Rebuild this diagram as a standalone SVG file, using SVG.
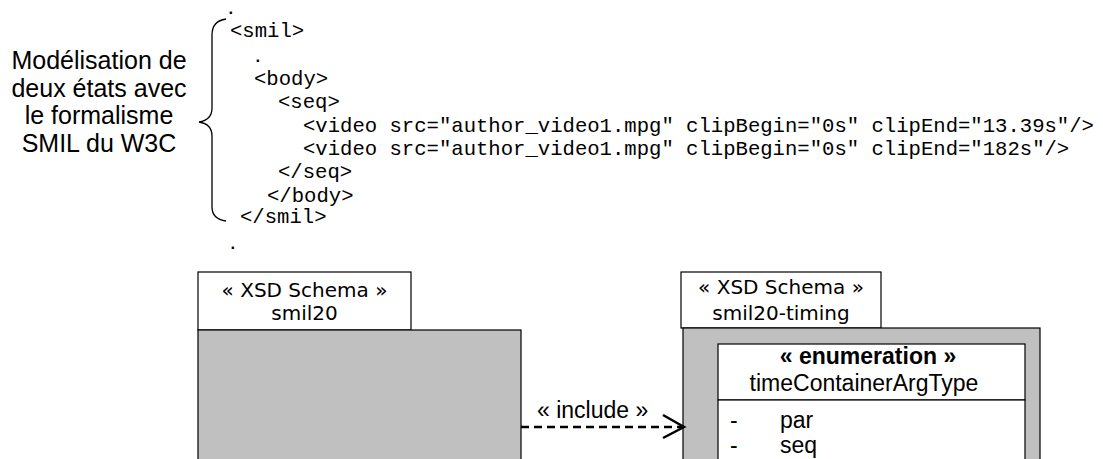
<svg xmlns="http://www.w3.org/2000/svg" width="1103" height="459" viewBox="0 0 1103 459">
<style>
.lbl{font-family:"Liberation Sans",Arial,sans-serif;font-size:25px;fill:#000;text-anchor:middle}
.code{font-family:"Liberation Mono","Courier New",monospace;font-size:20.6px;fill:#000;white-space:pre}
.dot{font-family:"Liberation Mono","Courier New",monospace;font-size:16px;font-weight:bold;fill:#000}
.tab{font-family:"DejaVu Sans",Tahoma,sans-serif;font-size:20px;fill:#000;text-anchor:middle}
.ar{font-family:"Liberation Sans",Arial,sans-serif;font-size:23px;fill:#000}
.box{fill:#fff;stroke:#000;stroke-width:1.2}
.pkg{fill:#c0c0c0;stroke:#000;stroke-width:1.2}
</style>
<g id="caption">
<text class="lbl" x="99" y="69">Modélisation de</text>
<text class="lbl" x="99" y="96.7">deux états avec</text>
<text class="lbl" x="99" y="124.4">le formalisme</text>
<text class="lbl" x="99" y="152.1">SMIL du W3C</text>
</g>
<g id="brace">
<path d="M226,19 Q212,21 212,35 L212,108 Q212,120 199,122 Q212,124 212,136 L212,207 Q212,219 226,221" fill="none" stroke="#000" stroke-width="1.3"/>
</g>
<g id="code">
<text class="dot" x="226" y="14">.</text>
<text class="code" x="230" y="37">&lt;smil&gt;</text>
<text class="dot" x="253" y="62">.</text>
<text class="code" x="254" y="85">&lt;body&gt;</text>
<text class="code" x="278" y="108">&lt;seq&gt;</text>
<text class="code" x="303" y="132">&lt;video src="author_video1.mpg" clipBegin="0s" clipEnd="13.39s"/&gt;</text>
<text class="code" x="303" y="155">&lt;video src="author_video1.mpg" clipBegin="0s" clipEnd="182s"/&gt;</text>
<text class="code" x="278" y="178">&lt;/seq&gt;</text>
<text class="code" x="267" y="202">&lt;/body&gt;</text>
<text class="code" x="240" y="223">&lt;/smil&gt;</text>
<text class="dot" x="228" y="249">.</text>
</g>
<g id="smil20">
<rect class="box" x="198" y="272" width="213" height="58"/>
<text class="tab" x="304.5" y="297">« XSD Schema »</text>
<text class="tab" x="304.5" y="320">smil20</text>
<rect class="pkg" x="198" y="330" width="323" height="140"/>
</g>
<g id="smil20-timing">
<rect class="box" x="681" y="272" width="200" height="56"/>
<text class="tab" x="781" y="294">« XSD Schema »</text>
<text class="tab" x="781" y="320">smil20-timing</text>
<rect class="pkg" x="683" y="328" width="357" height="140"/>
</g>
<g id="timeContainerArgType">
<rect class="box" x="718" y="344" width="307" height="56"/>
<text class="ar" x="868" y="364" text-anchor="middle" font-weight="bold">« enumeration »</text>
<text class="ar" x="864" y="391" text-anchor="middle">timeContainerArgType</text>
<rect class="box" x="718" y="400" width="307" height="70"/>
<text class="ar" x="730" y="428">-</text>
<text class="ar" x="780" y="428">par</text>
<text class="ar" x="730" y="453">-</text>
<text class="ar" x="780" y="453">seq</text>
</g>
<g id="connectors">
<line x1="521" y1="427" x2="682" y2="427" stroke="#000" stroke-width="2.5" stroke-dasharray="8 5"/>
<polyline points="663,415 684,427 663,438" fill="none" stroke="#000" stroke-width="2.5"/>
<text class="ar" x="537" y="418" font-size="24.5">« include »</text>
</g>
</svg>
